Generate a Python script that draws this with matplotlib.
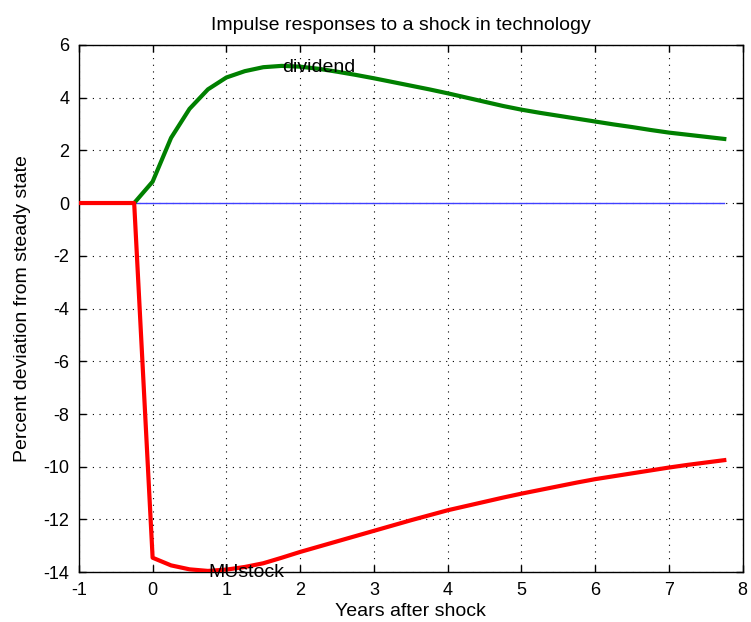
import matplotlib
matplotlib.use('Agg')
import matplotlib.pyplot as plt

plt.rcParams['font.family'] = ['Liberation Sans', 'DejaVu Sans']

# ── data (quarterly, years after shock) ───────────────────────────────────────
years = [-1.0, -0.75, -0.5, -0.25, 0.0, 0.25, 0.5, 0.75, 1.0, 1.25, 1.5, 1.75,
         2.0, 2.25, 2.5, 2.75, 3.0, 3.25, 3.5, 3.75, 4.0, 4.25, 4.5, 4.75,
         5.0, 5.25, 5.5, 5.75, 6.0, 6.25, 6.5, 6.75, 7.0, 7.25, 7.5, 7.75]

dividend = [0.0, 0.0, 0.0, 0.0, 0.81, 2.47, 3.57, 4.31, 4.76, 5.00, 5.15, 5.20,
            5.17, 5.09, 4.98, 4.86, 4.73, 4.59, 4.45, 4.31, 4.16, 4.00, 3.84, 3.68,
            3.54, 3.42, 3.31, 3.20, 3.09, 2.98, 2.88, 2.77, 2.67, 2.59, 2.51, 2.43]

mustock = [0.0, 0.0, 0.0, 0.0, -13.45, -13.74, -13.89, -13.95, -13.90, -13.80,
           -13.66, -13.45, -13.23, -13.03, -12.83, -12.63, -12.43, -12.23, -12.03,
           -11.84, -11.65, -11.49, -11.33, -11.17, -11.02, -10.88, -10.74, -10.60,
           -10.47, -10.36, -10.25, -10.14, -10.03, -9.93, -9.84, -9.75]

steady = [0.0] * len(years)

series_names = ['dividend', 'MUstock']
x_ticks = [-1, 0, 1, 2, 3, 4, 5, 6, 7, 8]
y_ticks = [-14, -12, -10, -8, -6, -4, -2, 0, 2, 4, 6]

# ── figure ────────────────────────────────────────────────────────────────────
fig = plt.figure(figsize=(7.51, 6.22), dpi=100)
ax = fig.add_axes([0.105, 0.080, 0.884, 0.848])

ax.plot(years[3:], steady[3:], color='#4040ff', linewidth=1.0, zorder=2)
ax.plot(years[3:], dividend[3:], color='#008000', linewidth=3, zorder=3)
ax.plot(years, mustock, color='#ff0000', linewidth=3, zorder=4)

# labels at the extreme points, MATLAB-style
i_max = dividend.index(max(dividend))
i_min = mustock.index(min(mustock))
ax.text(years[i_max], dividend[i_max] - 0.05, series_names[0], fontsize=14,
        va='center', ha='left', zorder=5)
ax.text(years[i_min], mustock[i_min] - 0.05, series_names[1], fontsize=14,
        va='center', ha='left', zorder=5)

ax.set_xlim(-1, 8)
ax.set_ylim(-14, 6)
ax.set_xticks(x_ticks)
ax.set_yticks(y_ticks)
ax.set_xticklabels([str(t) for t in x_ticks])
ax.set_yticklabels([str(t) for t in y_ticks])
ax.tick_params(direction='in', top=True, right=True, labelsize=13, length=5,
               width=1, pad=7)
ax.grid(True, color='black', linestyle=(0, (1, 5)), linewidth=0.8)
for sp in ax.spines.values():
    sp.set_linewidth(1.0)

ax.set_title('Impulse responses to a shock in technology', fontsize=14, pad=11,
             x=0.485)
ax.set_xlabel('Years after shock', fontsize=14, labelpad=3)
ax.set_ylabel('Percent deviation from steady state', fontsize=14, labelpad=9)

fig.savefig('out.png', dpi=100)
